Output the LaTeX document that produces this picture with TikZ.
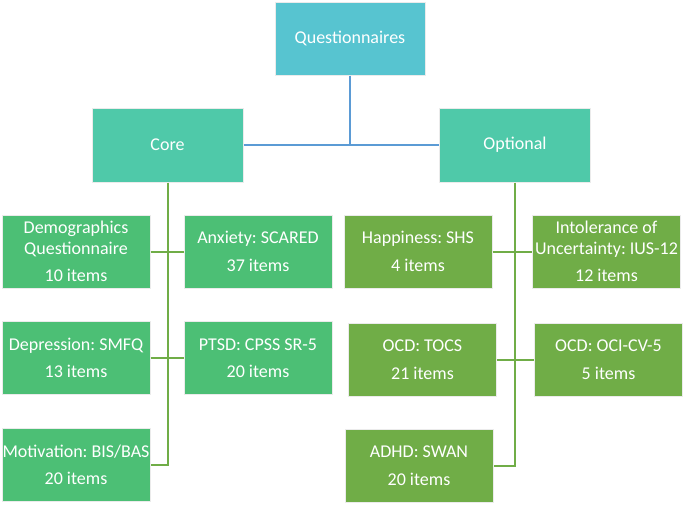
\documentclass[tikz,border=0pt]{standalone}
\usepackage{fontspec}
\setmainfont{Carlito}
\definecolor{qcol}{HTML}{57C4D0}
\definecolor{midcol}{HTML}{4FC9A9}
\definecolor{corecol}{HTML}{4CBF75}
\definecolor{optcol}{HTML}{70AD47}
\definecolor{bluelink}{HTML}{5B9BD5}
\definecolor{greenlink}{HTML}{70AD47}
\begin{document}
\frenchspacing
\begin{tikzpicture}[x=1pt,y=-1pt,
    box/.style={draw=black!8,line width=1pt,text=white,align=center,
        minimum width=148pt,minimum height=73pt,inner sep=0pt,
        font=\fontsize{18}{20.5}\selectfont},
    toplink/.style={draw=bluelink,line width=2pt},
    sublink/.style={draw=greenlink,line width=2pt}]
\useasboundingbox (0,0) rectangle (685,504);
\node[box,fill=qcol,minimum width=150pt] (quest) at (350,38.5) {Questionnaires};
\node[box,fill=midcol,minimum width=151pt,minimum height=74pt] (core) at (167.5,145) {Core};
\node[box,fill=midcol,minimum width=151pt,minimum height=74pt] (opt) at (515,145) {Optional};
\node[box,fill=corecol] (demo) at (76,251.5) {Demographics\\Questionnaire\\[7pt]10 items};
\node[box,fill=corecol] (anx) at (258,251.5) {Anxiety: SCARED\\[7pt]37 items};
\node[box,fill=corecol] (dep) at (76,358) {Depression: SMFQ\\[7pt]13 items};
\node[box,fill=corecol] (ptsd) at (258,358) {PTSD: CPSS SR-5\\[7pt]20 items};
\node[box,fill=corecol] (motiv) at (76,465) {Motivation: BIS/BAS\\[7pt]20 items};
\node[box,fill=optcol] (happy) at (418,251.5) {Happiness: SHS\\[7pt]4 items};
\node[box,fill=optcol] (ius) at (606.5,251.5) {Intolerance of\\Uncertainty: IUS-12\\[7pt]12 items};
\node[box,fill=optcol] (tocs) at (422.5,359.5) {OCD: TOCS\\[7pt]21 items};
\node[box,fill=optcol] (oci) at (608.5,359.5) {OCD: OCI-CV-5\\[7pt]5 items};
\node[box,fill=optcol] (adhd) at (419,465.5) {ADHD: SWAN\\[7pt]20 items};
\draw[toplink] (quest.south) -- (quest.south |- core.east);
\draw[toplink] (core.east) -- (opt.west);
\draw[sublink] (core.south) -- (core.south |- motiv.east) -- (motiv.east);
\draw[sublink] (demo.east) -- (anx.west);
\draw[sublink] (dep.east) -- (ptsd.west);
\draw[sublink] (opt.south) -- (opt.south |- adhd.east) -- (adhd.east);
\draw[sublink] (happy.east) -- (ius.west);
\draw[sublink] (tocs.east) -- (oci.west);
\end{tikzpicture}
\end{document}
